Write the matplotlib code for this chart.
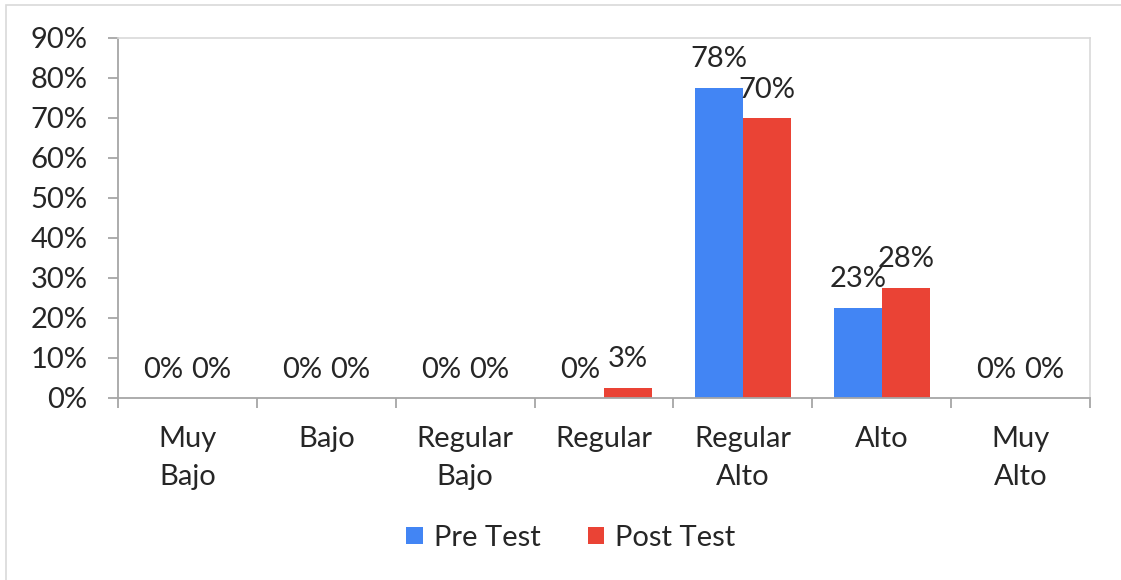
import numpy as np
import matplotlib.pyplot as plt
from matplotlib.patches import Rectangle

# Data (percent)
categorias = ["Muy\nBajo", "Bajo", "Regular\nBajo", "Regular", "Regular\nAlto", "Alto", "Muy\nAlto"]
pre_test = [0, 0, 0, 0, 77.6, 22.6, 0]
post_test = [0, 0, 0, 2.6, 70.0, 27.6, 0]
series = ["Pre Test", "Post Test"]

azul = "#4285F4"
rojo = "#EA4335"
texto = "#262626"
eje = "#A6A6A6"
fs = 21

plt.rcParams['font.family'] = ['Lato', 'DejaVu Sans']

fig = plt.figure(figsize=(11.21, 5.80), dpi=100)
ax = fig.add_axes([118/1121, 1 - 398/580, (1090 - 118)/1121, (398 - 38)/580])

# outer chart border
fig.patches.append(Rectangle((6/1121, -0.01), 1.02, 1 - 5/580 + 0.01, transform=fig.transFigure,
                             fill=False, edgecolor="#D9D9D9", linewidth=1.2))

x = np.arange(len(categorias))
w = 0.345
b1 = ax.bar(x - w/2, pre_test, w, color=azul, label=series[0])
b2 = ax.bar(x + w/2, post_test, w, color=rojo, label=series[1])

for bars in (b1, b2):
    for r in bars:
        v = r.get_height()
        ax.annotate("{}%".format(int(v + 0.5) if v > 0 else 0), (r.get_x() + r.get_width()/2, v),
                    xytext=(0, 11), textcoords="offset points", ha="center", va="bottom",
                    fontsize=fs, color=texto)

ax.set_xlim(-0.5, len(categorias) - 0.5)
ax.set_ylim(0, 90)
ax.set_yticks(range(0, 91, 10))
ax.set_yticklabels(["{}%".format(t) for t in range(0, 91, 10)], fontsize=fs, color=texto)

# category ticks at boundaries, labels at centres
ax.set_xticks(np.arange(-0.5, len(categorias), 1))
ax.set_xticklabels([])
ax.set_xticks(x, minor=True)
ax.set_xticklabels(categorias, minor=True, fontsize=fs, color=texto, linespacing=1.6)
ax.tick_params(axis="x", which="minor", length=0, pad=20)
ax.tick_params(axis="x", which="major", length=7, color=eje, width=1.3)
ax.tick_params(axis="y", length=7, color=eje, width=1.3, pad=15)

for s in ("left", "bottom"):
    ax.spines[s].set_color(eje)
    ax.spines[s].set_linewidth(1.3)
for s in ("top", "right"):
    ax.spines[s].set_color("#D9D9D9")
    ax.spines[s].set_linewidth(1.2)

fig.legend(loc="center", bbox_to_anchor=(571/1121, 1 - 538/580), ncol=2, frameon=False,
           fontsize=fs, handlelength=0.55, handleheight=0.55, handletextpad=0.4, columnspacing=1.6,
           labelcolor=texto)

plt.savefig("out.png", dpi=100)
